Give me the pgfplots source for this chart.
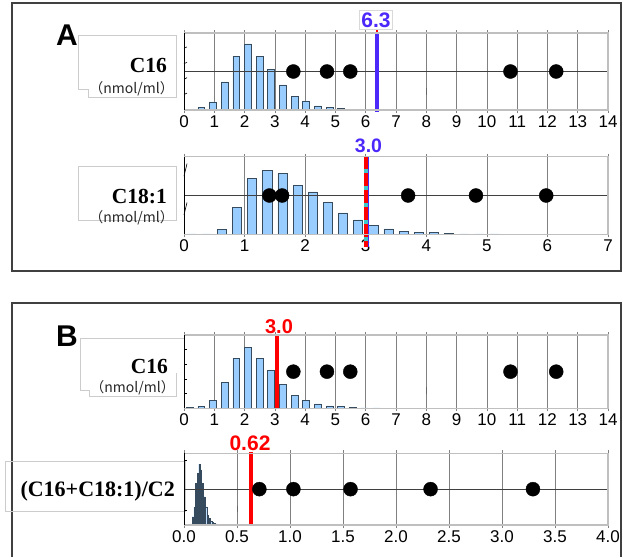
\documentclass[border=0pt]{standalone}
\usepackage{fontspec}
\setmainfont{Liberation Sans}
\newfontfamily\serifb{Liberation Serif}
\newfontfamily\cjk{Noto Sans CJK JP}
\usepackage{pgfplots}
\pgfplotsset{compat=1.18}

\definecolor{barfill}{RGB}{153,204,255}
\definecolor{baredge}{RGB}{55,75,95}
\definecolor{lineblue}{RGB}{76,40,250}
\definecolor{linecyan}{RGB}{60,200,200}

\pgfplotsset{
  strip/.style={
    scale only axis, width=424pt, anchor=north west,
    xmin=0, ymin=0, ymax=10, clip=false,
    axis line style={draw=none},
    xmajorgrids, major grid style={black!50, line width=0.7pt},
    tick align=outside, major tick length=3pt,
    tick style={black!50, line width=0.7pt},
    ytick=\empty,
    ticklabel style={font=\fontsize{17}{17}\selectfont},
    xticklabel style={yshift=1pt},
    /pgf/number format/assume math mode=true,
  },
  bars/.style={ybar, fill=barfill, draw=baredge, line width=0.5pt},
  dots/.style={only marks, mark=*, mark size=7pt, black},
}

% plot frame: black left side, light grey elsewhere
\newcommand\stripframe{%
  \draw[black!25, line width=1.5pt] (rel axis cs:0,0) -- (rel axis cs:1,0) -- (rel axis cs:1,1) -- (rel axis cs:0,1);
  \draw[black, line width=0.7pt] (rel axis cs:0,0) -- (rel axis cs:0,1);}
\newcommand\leftticks[1]{%
  \pgfplotsinvokeforeach{#1}{\draw[black, line width=0.6pt] (axis cs:0,##1) -- ++(3pt,0);}}

\begin{document}
\begin{tikzpicture}
\path[use as bounding box] (0,0) rectangle (623pt,-557pt);

% panel frames
\draw[black!75, line width=1.2pt] (12pt,-3pt) rectangle (621pt,-271pt);
\draw[black!75, line width=1.2pt] (12pt,-557pt) -- (12pt,-303pt) -- (621pt,-303pt) -- (621pt,-557pt);

\node[font=\bfseries\fontsize{30}{30}\selectfont] at (67pt,-35pt) {A};
\node[font=\bfseries\fontsize{30}{30}\selectfont] at (67pt,-336pt) {B};

% label boxes
\draw[black!20, line width=0.6pt] (78pt,-35pt) -- (176pt,-35pt) -- (176pt,-97.7pt) -- (88.3pt,-97.7pt) -- (88.3pt,-89.3pt) -- (78pt,-89.3pt) -- cycle;
\draw[black!20, line width=0.6pt] (78pt,-166pt) rectangle (176pt,-220pt);
\draw[black!20, line width=0.6pt] (185pt,-338.3pt) -- (80pt,-338.3pt) -- (80pt,-390pt) -- (89.3pt,-390pt) -- (89.3pt,-396.7pt) -- (176.7pt,-396.7pt) -- (176.7pt,-373pt);
\draw[black!20, line width=0.6pt] (5pt,-461.7pt) rectangle (185pt,-511.7pt);

\node[anchor=base east, inner sep=0pt, font=\serifb\bfseries\fontsize{21.5}{21.5}\selectfont] at (167pt,-72.7pt) {C16};
\node[anchor=base east, inner sep=0pt, text=black!85, font=\cjk\fontsize{14}{14}\selectfont] at (174pt,-93.6pt) {（nmol/ml）};
\node[anchor=base east, inner sep=0pt, font=\serifb\bfseries\fontsize{21.5}{21.5}\selectfont] at (167pt,-203pt) {C18:1};
\node[anchor=base east, inner sep=0pt, text=black!85, font=\cjk\fontsize{14}{14}\selectfont] at (174pt,-222.6pt) {（nmol/ml）};
\node[anchor=base east, inner sep=0pt, font=\serifb\bfseries\fontsize{21.5}{21.5}\selectfont] at (168pt,-373.3pt) {C16};
\node[anchor=base east, inner sep=0pt, text=black!85, font=\cjk\fontsize{14}{14}\selectfont] at (175pt,-392.6pt) {（nmol/ml）};
\node[anchor=base east, inner sep=0pt, font=\serifb\bfseries\fontsize{22}{22}\selectfont] at (175pt,-496pt) {(C16+C18:1)/C2};

% ---------- A: C16 ----------
\begin{axis}[strip, at={(184pt,-33pt)}, height=77pt, xmax=14, xtick={0,...,14}]
\addplot[bars, bar width=0.23] coordinates {
(0.570,0.30) (0.955,1.04) (1.340,3.65) (1.725,7.00) (2.110,8.60) (2.495,7.00) (2.880,5.26)
(3.265,3.26) (3.650,1.78) (4.035,1.17) (4.420,0.52) (4.805,0.35) (5.190,0.26)};
\addplot[black!75, line width=0.7pt, mark=none] coordinates {(0,5) (14,5)};
\addplot[black, line width=1.3pt, mark=none] coordinates {(0,0) (10,0)};
\addplot[black!60, line width=0.6pt, mark=none] coordinates {(8,1.95) (8,2.82)};
\addplot[dots] coordinates {(3.61,5) (4.72,5) (5.49,5) (10.78,5) (12.29,5)};
\addplot[red, line width=2pt, mark=none] coordinates {(6.36,10) (6.36,10.6)};
\addplot[lineblue, line width=4pt, mark=none] coordinates {(6.36,-0.2) (6.36,10.1)};
\stripframe
\leftticks{2,4,6,8}
\end{axis}
\node[anchor=base, fill=white, draw=black!15, inner sep=2pt, text=lineblue, font=\bfseries\fontsize{21}{21}\selectfont] at (376pt,-27pt) {6.3};

% ---------- A: C18:1 ----------
\begin{axis}[strip, at={(184pt,-156.7pt)}, height=77.6pt, xmax=7, xtick={0,...,7}]
\addplot[bars, bar width=0.15] coordinates {
(0.125,0.05) (0.375,0.05) (0.625,0.64) (0.875,3.48) (1.125,7.22) (1.375,8.25) (1.625,7.86)
(1.875,6.32) (2.125,5.46) (2.375,4.12) (2.625,2.75) (2.875,1.85) (3.125,1.16) (3.375,0.69)
(3.625,0.39) (3.875,0.26) (4.125,0.21) (4.375,0.13) (4.625,0.06) (4.875,0.05) (5.125,0.04)};
\addplot[black!75, line width=0.7pt, mark=none] coordinates {(0,5) (7,5)};
\addplot[black, line width=1.2pt, mark=none] coordinates {(0,0) (6.53,0)};
\addplot[dots] coordinates {(1.41,5) (1.62,5) (3.70,5) (4.82,5) (5.98,5)};
\addplot[lineblue, line width=2.5pt, mark=none] coordinates {(3.035,-1.6) (3.035,10.1)};
\addplot[linecyan, line width=4pt, mark=none] coordinates {(3.0,-1.6) (3.0,10.1)};
\addplot[red, line width=4pt, dash pattern=on 13pt off 4pt, mark=none] coordinates {(3.0,10.1) (3.0,-1.6)};
\stripframe
\leftticks{2.5,7.5}
\end{axis}
\node[anchor=base, inner sep=0pt, text=lineblue, font=\bfseries\fontsize{19.5}{19.5}\selectfont] at (368.5pt,-152pt) {3.0};

% ---------- B: C16 ----------
\begin{axis}[strip, at={(184pt,-335pt)}, height=73.3pt, xmax=14, xtick={0,...,14}]
\addplot[bars, bar width=0.23] coordinates {
(0.185,0.10) (0.570,0.27) (0.955,1.09) (1.340,3.55) (1.725,6.80) (2.110,8.36) (2.495,6.80)
(2.880,5.18) (3.265,3.23) (3.650,1.77) (4.035,1.09) (4.420,0.59) (4.805,0.32) (5.190,0.23)
(5.575,0.08) (5.960,0.06) (6.345,0.05)};
\addplot[black, line width=1.0pt, mark=none] coordinates {(0,0) (6.5,0)};
\addplot[black!60, line width=0.6pt, mark=none] coordinates {(8,1.95) (8,2.95)};
\addplot[dots] coordinates {(3.61,5) (4.72,5) (5.49,5) (10.78,5) (12.29,5)};
\addplot[red, line width=4pt, mark=none] coordinates {(3.08,0) (3.08,10.15)};
\stripframe
\leftticks{2,4,6,8}
\end{axis}
\node[anchor=base, inner sep=0pt, text=red, font=\bfseries\fontsize{20}{20}\selectfont] at (279pt,-333pt) {3.0};

% ---------- B: (C16+C18:1)/C2 ----------
\begin{axis}[strip, at={(184pt,-453.3pt)}, height=71.7pt, xmax=4, xtick={0,0.5,...,4},
  xticklabel style={/pgf/number format/.cd, fixed, fixed zerofill, precision=1}]
\addplot[bars, bar width=0.012, line width=0.25pt] coordinates {
(0.066,0.15) (0.082,1.16) (0.098,2.50) (0.113,5.80) (0.129,7.20) (0.145,8.50) (0.160,7.70)
(0.176,5.80) (0.192,3.95) (0.208,2.56) (0.224,1.40) (0.240,0.93) (0.255,0.56) (0.271,0.38)
(0.287,0.25) (0.302,0.18) (0.318,0.12) (0.334,0.08) (0.350,0.05)};
\addplot[black!75, line width=0.7pt, mark=none] coordinates {(0,5) (4,5)};
\addplot[black, line width=1.0pt, mark=none] coordinates {(0.02,0) (0.36,0)};
\addplot[black!60, line width=0.6pt, mark=none] coordinates {(0.5,1.86) (0.5,2.65)};
\addplot[dots] coordinates {(0.711,5) (1.032,5) (1.571,5) (2.326,5) (3.292,5)};
\addplot[red, line width=4pt, mark=none] coordinates {(0.633,0) (0.633,10.2)};
\stripframe
\leftticks{2,9}
\end{axis}
\node[anchor=base, inner sep=0pt, text=red, font=\bfseries\fontsize{21}{21}\selectfont] at (250pt,-450pt) {0.62};
\end{tikzpicture}
\end{document}
